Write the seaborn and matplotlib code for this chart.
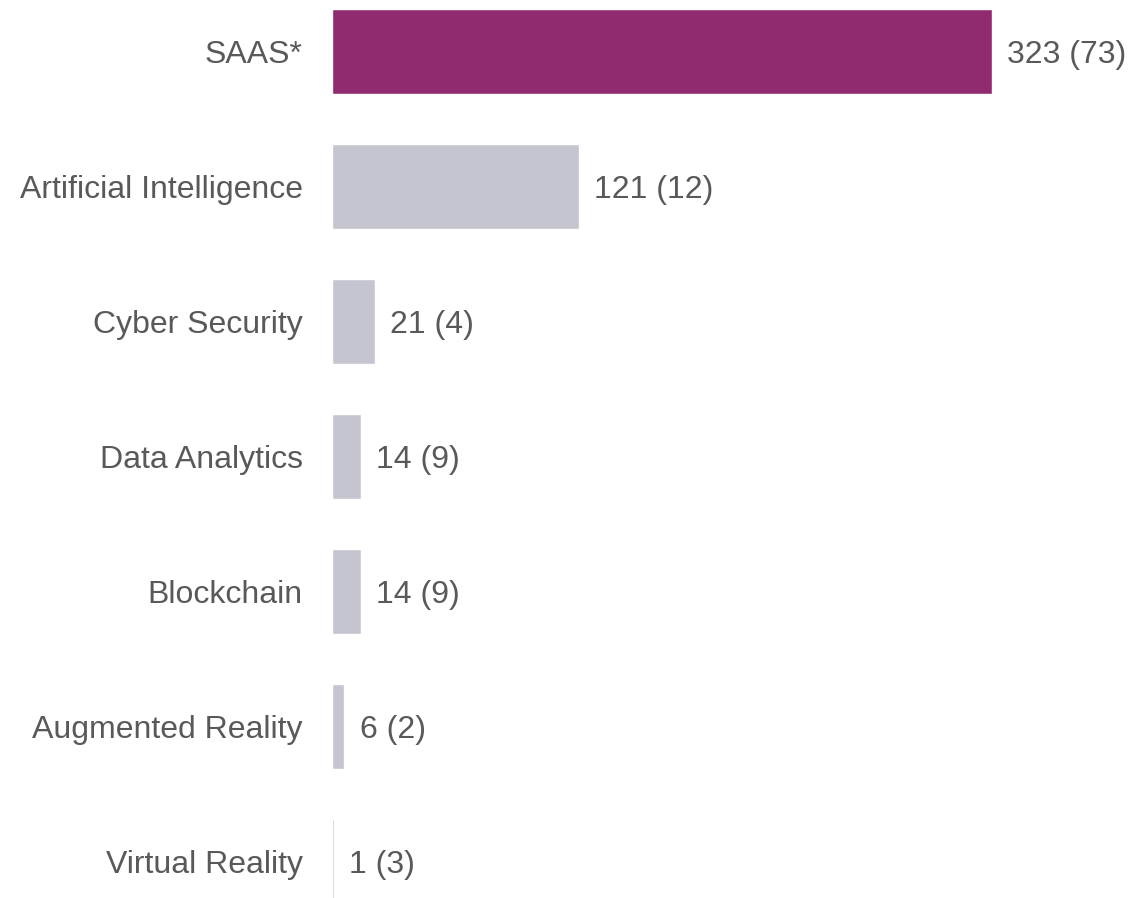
import matplotlib
matplotlib.use("Agg")
import matplotlib.pyplot as plt
import seaborn as sns
import pandas as pd

categories = ["SAAS*", "Artificial Intelligence", "Cyber Security", "Data Analytics",
              "Blockchain", "Augmented Reality", "Virtual Reality"]
values = [323, 121, 21, 14, 14, 6, 1]
secondary = [73, 12, 4, 9, 9, 2, 3]
labels = [f"{v} ({s})" for v, s in zip(values, secondary)]

purple = "#922A6F"
grey = "#C5C5CF"
text_color = "#595959"
palette = [purple] + [grey] * (len(categories) - 1)

df = pd.DataFrame({"category": categories, "value": values})

sns.set_theme(style="white")
plt.rcParams['font.family'] = ['Liberation Sans', 'DejaVu Sans']

fig = plt.figure(figsize=(11.47, 8.98), dpi=100)
ax = fig.add_axes([332 / 1147, 0, 1 - 332 / 1147, 1])

sns.barplot(data=df, x="value", y="category", hue="category", palette=palette,
            legend=False, width=0.63, ax=ax, orient="h", saturation=1)

ax.set_xlim(0, 815 / 2.043)
ax.set_ylim(6.267, -0.385)
ax.set_xlabel("")
ax.set_ylabel("")
ax.set_xticks([])
for s in ax.spines.values():
    s.set_visible(False)
ax.tick_params(axis="y", length=0, pad=21, labelsize=23, labelcolor=text_color)

for cont, lab in zip(ax.containers, labels):
    texts = ax.bar_label(cont, labels=[lab], padding=11, fontsize=23, color=text_color)
    for t in texts:
        t.set_va("center_baseline")

fig.savefig("out.png", dpi=100)
